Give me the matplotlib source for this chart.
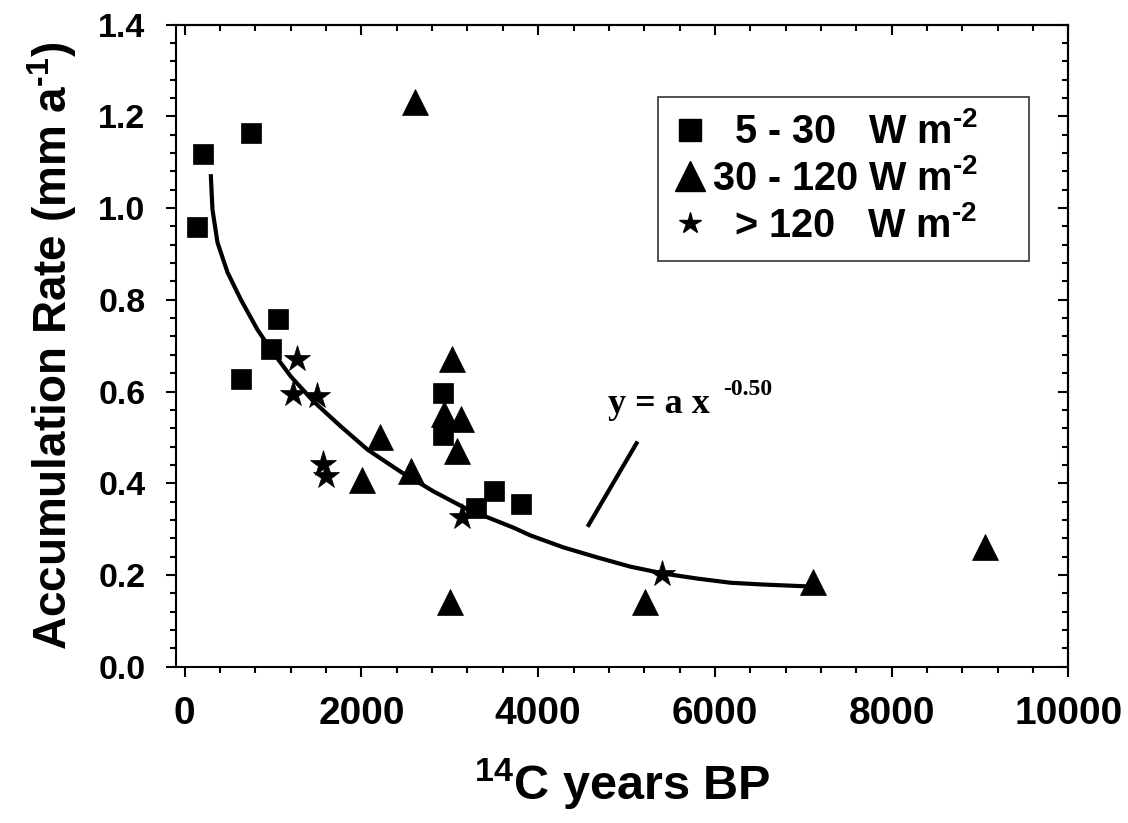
import matplotlib
matplotlib.use('Agg')
import matplotlib.pyplot as plt
from matplotlib.lines import Line2D
from matplotlib.ticker import MultipleLocator

plt.rcParams['font.family'] = ['Liberation Sans', 'DejaVu Sans']
plt.rcParams['font.weight'] = 'bold'
plt.rcParams['mathtext.fontset'] = 'custom'
plt.rcParams['mathtext.rm'] = 'Liberation Sans:bold'
plt.rcParams['mathtext.it'] = 'Liberation Sans:bold'
plt.rcParams['mathtext.bf'] = 'Liberation Sans:bold'
plt.rcParams['mathtext.default'] = 'rm'

# 5 - 30 W m-2
sq_age = [143, 211, 747, 641, 973, 1059, 2922, 2922, 3300, 3499, 3801]
sq_rate = [0.959, 1.119, 1.163, 0.628, 0.692, 0.759, 0.597, 0.506, 0.345, 0.384, 0.355]

# 30 - 120 W m-2
tri_age = [2602, 3028, 2930, 3122, 3085, 2206, 2002, 2557, 3006, 5204, 7115, 9053]
tri_rate = [1.232, 0.670, 0.550, 0.539, 0.471, 0.501, 0.407, 0.426, 0.141, 0.140, 0.184, 0.261]

# > 120 W m-2
st_age = [1275, 1230, 1493, 1569, 1595, 3141, 5407]
st_rate = [0.670, 0.594, 0.590, 0.441, 0.415, 0.327, 0.201]

# fitted curve
fit_age = [294, 313, 370, 483, 633, 822, 973, 1199, 1459, 1765, 2070, 2443, 2817,
           3201, 3722, 3914, 4287, 4672, 5045, 5419, 5803, 6176, 6550, 7048, 7115]
fit_rate = [1.074, 0.997, 0.925, 0.860, 0.801, 0.735, 0.692, 0.633, 0.578, 0.524,
            0.473, 0.425, 0.382, 0.343, 0.303, 0.286, 0.260, 0.238, 0.218, 0.203,
            0.192, 0.183, 0.179, 0.175, 0.175]

# pointer line to the equation
ptr_age = [4559, 5125]
ptr_rate = [0.305, 0.491]

fig = plt.figure(figsize=(11.28, 8.23), dpi=100)
ax = fig.add_axes([0.156, 0.19, 0.791, 0.78])

ax.plot(fit_age, fit_rate, color='black', lw=3, zorder=2, solid_capstyle='butt')
ax.plot(ptr_age, ptr_rate, color='black', lw=3, zorder=2, solid_capstyle='butt')

ax.plot(sq_age, sq_rate, 's', color='black', ms=14, mew=0.5, zorder=3)
ax.plot(tri_age, tri_rate, '^', color='black', ms=19, mew=0.5, zorder=3)
ax.plot(st_age, st_rate, '*', color='black', ms=20, mew=0.5, zorder=3)

ax.text(4796, 0.554, 'y = a x', family='Liberation Serif', fontweight='bold',
        fontsize=26, ha='left', va='baseline')
ax.text(6097, 0.593, '-0.50', family='Liberation Serif', fontweight='bold',
        fontsize=17, ha='left', va='baseline')

ax.set_xlim(-100, 10000)
ax.set_ylim(0, 1.4)
ax.xaxis.set_major_locator(MultipleLocator(2000))
ax.xaxis.set_minor_locator(MultipleLocator(400))
ax.yaxis.set_major_locator(MultipleLocator(0.2))
ax.yaxis.set_minor_locator(MultipleLocator(0.04))
ax.yaxis.set_major_formatter(matplotlib.ticker.FormatStrFormatter('%.1f'))

for s in ax.spines.values():
    s.set_linewidth(1.5)

ax.tick_params(which='both', width=1.5)
ax.tick_params(axis='both', which='major', direction='out', length=7, top=False, right=False)
ax.tick_params(axis='both', which='minor', direction='out', length=4, top=False, right=False)
ax.tick_params(axis='x', which='major', labelsize=28, pad=14)
ax.tick_params(axis='y', which='major', labelsize=24.5, pad=15)

# inward ticks on top and right
ax2 = ax.secondary_xaxis('top')
ax2.xaxis.set_major_locator(MultipleLocator(2000))
ax2.xaxis.set_minor_locator(MultipleLocator(400))
ax2.tick_params(which='major', direction='in', length=7, width=1.5, labeltop=False)
ax2.tick_params(which='minor', direction='in', length=4, width=1.5)
ax3 = ax.secondary_yaxis('right')
ax3.yaxis.set_major_locator(MultipleLocator(0.2))
ax3.yaxis.set_minor_locator(MultipleLocator(0.04))
ax3.tick_params(which='major', direction='in', length=7, width=1.5, labelright=False)
ax3.tick_params(which='minor', direction='in', length=4, width=1.5)
ax2.spines['top'].set_linewidth(1.5)
ax3.spines['right'].set_linewidth(1.5)

ax.set_xlabel(r'$^{14}$C years BP', fontsize=35, fontweight='bold', labelpad=18)
ax.set_ylabel(r'Accumulation Rate (mm a$^{\text{-1}}$)', fontsize=33, fontweight='bold',
              labelpad=14)

handles = [
    Line2D([], [], ls='none', marker='s', color='black', ms=16),
    Line2D([], [], ls='none', marker='^', color='black', ms=21),
    Line2D([], [], ls='none', marker='*', color='black', ms=16),
]
labels = [r'  5 - 30   W m$^{\text{-2}}$    ',
          r'30 - 120 W m$^{\text{-2}}$    ',
          r'  > 120   W m$^{\text{-2}}$    ']
leg = ax.legend(handles, labels, loc='upper right', bbox_to_anchor=(0.956, 0.888),
                borderaxespad=0, fontsize=28.5, frameon=True, fancybox=False,
                handlelength=0.8, handletextpad=0.15, borderpad=0.4,
                labelspacing=0.2)
leg.get_frame().set_edgecolor('black')
leg.get_frame().set_linewidth(1.2)

fig.savefig('out.png', dpi=100)
